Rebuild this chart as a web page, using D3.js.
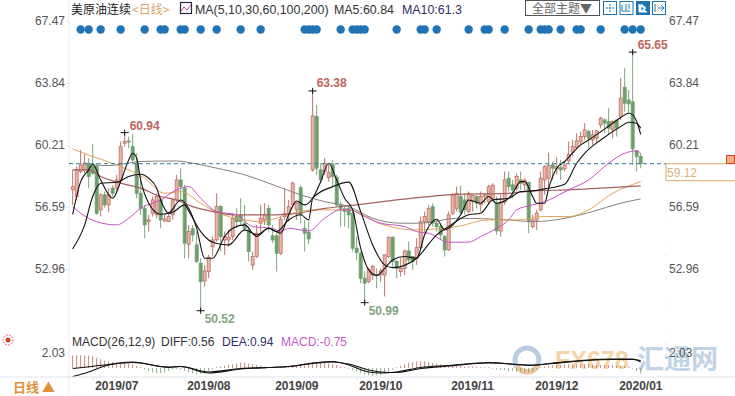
<!DOCTYPE html>
<meta charset="utf-8">
<head>
<script src="https://d3js.org/d3.v7.min.js"></script>
<style>
  html, body { margin: 0; padding: 0; background: #fff; overflow: hidden; }
  text { font-family: "Liberation Sans", Arial, sans-serif; font-size: 12px; }
  .cjk { font-family: "Noto Sans CJK SC", sans-serif; }
  .axis path, .axis line { stroke: #e4e8ee; }
  .axis text { fill: #555; font-size: 12px; }
  .dates text { fill: #444; font-weight: bold; }
  .ma { fill: none; }
</style>
</head>
<body>
<div id="my_dataviz"></div>
<script>

    // daily candles
    var opens = [57.59,57.20,58.66,58.76,59.15,58.95,58.95,56.42,57.30,56.71,57.69,57.69,58.17,60.32,60.45,60.12,59.15,57.39,56.51,55.73,56.22,56.13,57.00,55.77,55.73,56.13,57.00,58.17,57.69,54.41,55.31,54.37,53.30,52.26,52.81,54.27,54.66,56.61,54.66,54.66,54.86,56.03,56.13,55.64,55.25,53.20,53.69,55.64,55.83,56.51,54.90,54.90,53.88,56.03,56.13,56.71,56.42,57.72,55.34,55.11,58.76,61.88,58.76,58.66,58.31,59.09,58.31,56.71,56.48,56.51,56.22,54.18,53.88,52.42,52.22,52.61,52.65,52.61,52.61,53.69,54.82,53.40,52.81,53.00,54.02,53.69,53.59,54.21,55.73,55.73,56.61,55.64,55.44,54.86,54.08,56.22,56.51,57.20,57.00,56.32,56.90,57.20,56.71,57.20,56.90,57.10,56.81,55.19,56.87,58.27,57.88,57.69,58.17,57.88,58.03,55.44,55.83,56.42,58.17,58.27,59.05,58.82,58.89,58.82,59.28,59.79,60.06,60.42,60.71,61.00,60.51,60.61,61.39,61.68,61.59,61.10,61.68,61.88,63.59,62.85,62.74,59.87,59.54];
    var highs = [58.76,58.95,59.93,59.73,59.44,60.26,59.15,57.39,57.49,57.69,57.88,58.47,60.42,60.94,60.71,60.84,59.73,58.17,56.71,56.13,57.20,57.39,57.20,56.22,56.32,57.10,58.47,58.86,57.88,55.54,55.54,55.15,53.59,53.20,53.79,54.86,57.39,56.71,55.15,55.25,56.22,56.51,57.10,56.71,55.44,53.98,55.54,56.71,56.81,56.71,55.54,55.05,56.03,57.69,57.00,58.07,56.90,57.84,55.83,55.73,63.38,62.56,59.15,59.44,59.15,59.34,58.47,56.90,56.61,56.71,56.32,54.86,53.98,52.81,53.00,53.20,53.00,53.00,53.79,54.86,54.86,53.49,53.59,54.08,54.57,53.69,54.76,56.03,56.32,56.71,56.81,55.83,55.54,54.96,56.32,57.39,57.78,57.84,57.39,57.49,57.30,57.30,57.49,57.39,57.88,57.98,57.20,57.30,58.66,58.66,58.17,58.56,58.66,58.27,58.07,56.13,56.42,58.66,59.05,59.77,59.25,59.50,59.34,59.25,60.42,60.51,60.90,61.00,61.49,61.10,61.10,61.10,61.88,61.78,62.37,61.68,61.68,64.12,64.71,63.44,65.65,59.93,59.73];
    var lows = [56.71,57.00,58.56,58.56,57.69,58.47,56.13,56.03,56.55,56.28,57.20,57.49,58.07,60.12,60.03,59.25,57.10,56.13,54.76,55.15,56.03,55.93,55.34,55.73,55.70,55.83,56.90,57.00,53.59,53.59,54.57,53.30,50.52,51.93,52.42,53.69,54.57,53.98,53.78,54.27,54.66,55.34,55.54,55.15,53.40,52.91,53.59,55.15,55.54,55.15,54.47,52.81,53.78,55.83,55.73,56.51,55.83,55.64,53.98,54.41,58.66,58.47,57.98,58.47,58.07,57.78,56.61,55.44,55.44,55.34,53.98,53.49,52.13,50.99,52.13,52.32,51.83,52.22,51.35,53.59,53.10,52.42,52.52,52.61,53.30,52.91,53.20,54.08,55.05,55.54,55.44,55.15,54.66,53.69,54.02,56.13,56.32,56.13,56.13,56.22,56.32,56.51,56.32,56.81,56.71,57.00,54.96,54.86,56.71,57.49,57.10,57.49,57.59,57.49,55.05,55.34,55.25,56.32,57.30,57.69,58.17,58.47,58.17,58.66,59.15,59.54,59.93,60.22,60.51,60.03,60.22,60.32,61.20,60.90,60.81,60.61,60.71,61.68,62.17,62.07,59.05,58.66,58.85];
    var closes = [57.78,58.76,59.05,59.15,58.37,58.56,56.22,57.30,56.71,57.30,57.39,58.17,60.12,60.42,60.42,59.34,57.39,56.51,55.54,55.83,57.00,57.20,55.83,55.89,56.03,57.00,58.17,57.78,54.47,55.15,54.96,53.40,52.22,52.85,53.63,54.66,56.61,54.86,54.86,54.80,55.93,55.73,55.73,55.34,53.98,53.69,55.05,55.93,56.13,55.54,54.66,53.88,55.87,56.22,56.61,57.98,56.81,56.13,55.05,54.72,61.92,58.86,58.17,59.15,58.60,58.37,56.71,56.51,56.32,56.13,54.18,53.92,52.42,52.13,52.91,53.10,52.57,52.85,53.79,54.82,53.40,53.00,53.00,54.02,53.49,53.40,54.21,55.73,56.03,56.51,55.64,55.44,54.96,54.08,56.13,57.30,57.39,56.28,56.42,57.39,57.26,56.81,57.20,57.30,57.78,57.84,55.19,56.87,58.17,57.78,57.59,58.37,57.98,58.17,55.73,55.83,56.22,58.27,58.95,59.01,58.86,58.95,58.76,59.05,59.67,60.12,60.45,60.71,61.10,60.61,60.81,61.04,61.78,61.49,61.20,61.59,61.20,62.95,62.66,62.62,59.99,59.54,59.12];

    // moving averages, sampled by candle index
    var ma5Idx = [0,2,4,5,7,10,12,14,15,16,17,19,22,24,27,29,31,33,35,38,40,43,46,49,52,54,56,58,60,62,64,66,68,70,72,74,76,78,80,83,86,88,91,93,94,97,99,102,104,106,109,110,112,113,115,116,118,119,121,123,127,129,135,137,139,140,141,142];
    var ma5 = [56.16,58.07,58.76,59.09,58.17,57.10,58.07,59.34,59.73,59.44,58.17,56.81,56.16,56.22,57.00,56.51,55.34,53.59,53.59,54.86,55.34,55.54,54.86,55.34,55.05,56.13,56.94,56.71,57.10,58.07,59.15,58.17,57.10,56.42,54.18,52.91,52.58,53.00,53.49,53.69,53.59,54.96,55.87,55.25,55.34,56.13,57.00,56.81,57.20,56.81,57.10,57.39,58.07,58.07,57.20,56.81,56.81,57.69,58.86,59.25,60.22,60.51,61.49,61.82,62.07,61.98,61.59,60.84];
    var ma10Idx = [0,3,5,7,11,14,17,19,21,22,24,25,28,29,32,34,37,39,43,46,49,51,54,57,59,60,65,69,72,75,78,80,86,91,94,99,102,105,109,112,115,118,123,126,128,132,137,139,141,142];
    var ma10 = [54.14,55.54,57.20,57.98,58.04,58.37,58.50,58.27,57.69,57.00,56.22,56.28,56.71,56.36,55.15,54.66,54.41,54.37,55.25,54.96,55.34,55.15,55.83,56.13,55.83,57.10,57.78,58.04,56.32,54.37,53.20,53.04,53.59,54.96,55.44,56.13,56.22,57.00,57.10,57.49,57.53,57.65,57.92,59.15,59.73,60.51,61.29,61.55,61.49,61.20];
    var ma30Idx = [0,2,6,11,14,17,22,26,29,32,36,41,45,50,52,54,59,63,67,69,73,77,83,86,89,94,99,102,106,109,111,115,118,124,129,134,138,141,142];
    var ma30 = [56.61,56.22,55.73,55.54,55.93,56.51,57.00,57.59,57.78,57.10,56.32,56.13,55.44,55.34,55.15,55.34,55.19,55.93,56.42,56.42,56.03,55.64,55.44,55.15,55.05,54.53,54.53,54.86,55.34,55.83,56.42,56.71,56.90,57.59,58.17,59.15,59.73,59.87,59.73];
    var ma60Idx = [0,4,7,12,17,22,26,30,36,40,47,54,63,71,81,89,96,109,115,124,132,142];
    var ma60 = [58.76,58.76,58.37,57.98,57.69,57.20,57.00,56.61,56.28,56.13,56.13,56.16,56.51,56.71,57.00,57.20,57.33,57.39,57.53,57.59,57.69,57.82];
    var ma100Idx = [0,5,11,18,23,27,32,36,43,47,54,60,69,77,85,96,104,109,111,118,124,129,135,142];
    var ma100 = [59.99,59.54,59.05,58.27,57.39,57.49,56.81,56.28,55.83,55.73,56.16,56.42,56.42,55.60,55.25,55.44,55.83,55.83,55.83,56.03,56.03,56.42,57.39,58.07];
    var ma200Idx = [5,9,12,17,26,30,36,43,49,52,57,63,69,75,82,87,96,109,115,124,130,137,142];
    var ma200 = [59.05,59.01,59.09,59.25,59.28,59.15,58.86,58.47,57.98,57.72,57.30,56.90,56.61,55.93,55.64,55.64,55.93,55.83,55.73,55.97,56.32,56.81,57.06];

    // candle indexes carrying a blue dot along the top
    var dotIdx = [2,4,7,12,18,22,23,27,28,32,36,42,47,58,59,60,61,67,70,71,72,73,81,87,88,91,99,103,104,108,114,117,118,119,122,126,127,132,138,140,142];

    // MACD panel
    var macdBars = [1.7,1.75,1.75,1.7,1.7,1.6,1.4,1.2,1.0,.9,.8,.8,.7,.7,.6,.5,.3,.1,-.2,-.4,-.6,-.7,-.7,-.6,-.4,-.2,-.1,-.2,-.4,-.6,-.7,-.8,-.8,-.7,-.5,-.2,.1,.2,.3,.4,.5,.6,.7,.7,.6,.5,.4,.3,.2,.1,.1,.1,.1,.2,.3,.3,.4,.5,.6,.7,.8,.8,.7,.7,.6,.5,.4,.2,.1,-.1,-.3,-.5,-.7,-.9,-1,-1.1,-1,-.9,-.7,-.5,-.2,.1,.3,.5,.7,.8,.9,.9,.9,.8,.7,.6,.5,.4,.4,.3,.3,.3,.2,.2,.2,.2,.1,.1,.1,-.1,-.2,-.3,-.3,-.4,-.4,-.5,-.5,-.6,-.6,-.5,-.2,.1,.2,.3,.4,.4,.4,.5,.5,.5,.5,.5,.5,.5,.5,.4,.4,.4,.4,.4,.3,.3,.3,.2,-.1,-.4,-.75];
    var deaIdx = [0,8,15,24,27,34,42,49,54,61,65,69,74,77,81,87,94,104,115,120,127,135,140,142];
    var dea = [-.07,.41,.74,.14,.20,-.54,-.07,.07,.20,.68,.81,.54,-.27,-.54,-.61,-.07,.27,.68,.41,.61,.95,1.15,1.15,1.01];
    var diffIdx = [0,4,8,15,24,27,34,42,49,54,61,65,69,74,77,81,87,94,104,115,120,127,135,140,142];
    var diff = [-1.15,-.54,.27,.81,.07,.20,-.68,-.14,.07,.20,.74,.88,.41,-.54,-.68,-.54,.07,.34,.74,.34,.68,1.01,1.22,1.22,.81];

    var priceTicks = [67.47,63.84,60.21,56.59,52.96];
    var dateIdx = [5,28,50,71,94,115,136];
    var dateLabels = ["2019/07","2019/08","2019/09","2019/10","2019/11","2019/12","2020/01"];
    var lastPrice = 59.12;
    // index, price, text colour, label offset
    var extremes = [
      {i: 13, v: 60.94, c: "#c0645c", dx: 5, dy: -3},
      {i: 60, v: 63.38, c: "#c0645c", dx: 4, dy: -4},
      {i: 32, v: 50.52, c: "#7fa67f", dx: 4, dy: 12},
      {i: 73, v: 50.99, c: "#7fa67f", dx: 4, dy: 12},
      {i: 140, v: 65.65, c: "#c0645c", dx: 5, dy: -3}
    ];

    var width = 735, height = 396;

    var svg = d3.select("#my_dataviz")
      .append("svg")
        .attr("width", width)
        .attr("height", height)
        .style("display", "block");

    var x = d3.scaleLinear().domain([0, 142]).range([72.67, 640.67]);
    var y = d3.scaleLinear().domain([67.47, 52.96]).range([21, 269]);
    var yMacd = d3.scaleLinear().domain([2.03, 0]).range([353, 368]);

    // price axes on both sides
    var leftAxis = d3.axisLeft(y).tickValues(priceTicks).tickFormat(d3.format(".2f")).tickSize(3).tickPadding(1);
    svg.append("g").attr("class", "axis").attr("transform", "translate(69,0)").call(leftAxis);
    var rightAxis = d3.axisRight(y).tickValues(priceTicks).tickFormat(d3.format(".2f")).tickSize(0).tickPadding(3);
    svg.append("g").attr("class", "axis").attr("transform", "translate(666,0)").call(rightAxis);
    svg.selectAll(".axis .domain").remove();

    svg.append("line").attr("x1", 69).attr("x2", 69).attr("y1", 0).attr("y2", 396).attr("stroke", "#e6eaf0");
    svg.append("line").attr("x1", 666).attr("x2", 666).attr("y1", 0).attr("y2", 376)
      .attr("stroke", "#eceff3").attr("stroke-dasharray", "3,8");

    // watermark sits under the MACD lines
    var mark = svg.append("g");
    mark.append("circle").attr("cx", 527).attr("cy", 360).attr("r", 12).attr("fill", "none")
      .attr("stroke", "#b9cde3").attr("stroke-width", 5);
    mark.append("path").attr("d", "M517,366 A12,12 0 0,0 538,365").attr("fill", "none")
      .attr("stroke", "#f2c79a").attr("stroke-width", 5);
    mark.append("text").attr("x", 555).attr("y", 369).attr("fill", "#f6d3a8")
      .style("font-size", "25px").style("font-weight", "bold").text("FX678");
    mark.append("text").attr("class", "cjk").attr("x", 637).attr("y", 369).attr("fill", "#c2d3e6")
      .style("font-size", "27px").style("font-weight", "bold").text("汇通网");

    var idx = d3.range(opens.length);
    var red = function(i) { return closes[i] >= opens[i]; };

    // wicks
    svg.append("g").selectAll("line").data(idx).enter().append("line")
      .attr("x1", function(i) { return x(i); })
      .attr("x2", function(i) { return x(i); })
      .attr("y1", function(i) { return y(highs[i]); })
      .attr("y2", function(i) { return y(lows[i]); })
      .attr("stroke", function(i) { return red(i) ? "#b4766c" : "#7da57d"; });

    // bodies
    svg.append("g").selectAll("rect").data(idx).enter().append("rect")
      .attr("x", function(i) { return x(i) - 1.5; })
      .attr("width", 3)
      .attr("y", function(i) { return y(Math.max(opens[i], closes[i])); })
      .attr("height", function(i) { return Math.max(1, Math.abs(y(opens[i]) - y(closes[i]))); })
      .attr("fill", function(i) { return red(i) ? "#eab4a8" : "#6c9f6c"; })
      .attr("stroke", function(i) { return red(i) ? "#bd6f62" : "#6c9f6c"; })
      .attr("stroke-width", 0.8);

    // moving averages
    function drawLine(xs, ys, color, w, yScale) {
      var pts = xs.map(function(d, k) { return [d, ys[k]]; });
      svg.append("path")
        .datum(pts)
        .attr("class", "ma")
        .attr("stroke", color)
        .attr("stroke-width", w)
        .attr("d", d3.line()
          .x(function(d) { return x(d[0]); })
          .y(function(d) { return yScale(d[1]); })
          .curve(d3.curveMonotoneX));
    }
    drawLine(ma200Idx, ma200, "#87807c", 1, y);
    drawLine(ma100Idx, ma100, "#e0a55a", 1, y);
    drawLine(ma60Idx, ma60, "#a5615f", 1.2, y);
    drawLine(ma30Idx, ma30, "#c94fc0", 1, y);
    drawLine(ma10Idx, ma10, "#111", 1.1, y);
    drawLine(ma5Idx, ma5, "#111", 1.1, y);

    // blue dots along the top
    svg.append("g").selectAll("circle").data(dotIdx).enter().append("circle")
      .attr("cx", function(i) { return x(i); })
      .attr("cy", 29.5)
      .attr("r", 4.2)
      .attr("fill", "#1f74b4");

    // last price line and box
    svg.append("line").attr("x1", 69).attr("x2", 666)
      .attr("y1", y(lastPrice)).attr("y2", y(lastPrice))
      .attr("stroke", "#2f7f92").attr("stroke-dasharray", "4,3");
    svg.append("path").attr("d", "M735," + y(lastPrice) + " H666 V" + (y(lastPrice) + 17) + " H735")
      .attr("fill", "none").attr("stroke", "#dda964");
    svg.append("text").attr("x", 667).attr("y", y(lastPrice) + 13)
      .attr("fill", "#d9b47c").text(d3.format(".2f")(lastPrice));
    svg.append("rect").attr("x", 726.5).attr("y", 155.5).attr("width", 8).attr("height", 8)
      .attr("fill", "#f3b27c").attr("stroke", "#d8402c");

    // high / low markers
    var ext = svg.append("g").selectAll("g").data(extremes).enter().append("g");
    ext.append("path")
      .attr("d", function(d) {
        return "M" + (x(d.i) - 4) + "," + y(d.v) + "h8M" + x(d.i) + "," + (y(d.v) - 3) + "v6";
      })
      .attr("stroke", "#111");
    ext.append("text")
      .attr("x", function(d) { return x(d.i) + d.dx; })
      .attr("y", function(d) { return y(d.v) + d.dy; })
      .attr("fill", function(d) { return d.c; })
      .style("font-weight", "bold")
      .text(function(d) { return d3.format(".2f")(d.v); });

    // header
    var head = svg.append("g");
    head.append("text").attr("class", "cjk").attr("x", 71).attr("y", 14).attr("fill", "#222").text("美原油连续");
    head.append("text").attr("class", "cjk").attr("x", 132).attr("y", 14).attr("fill", "#dba36a").text("<日线>");
    head.append("rect").attr("x", 180.5).attr("y", 2.5).attr("width", 11).attr("height", 11)
      .attr("fill", "#fff").attr("stroke", "#2a2650").attr("stroke-width", 1.2);
    head.append("path").attr("d", "M181,11 l3,-4 l3,3 l4,-5").attr("fill", "none").attr("stroke", "#b0478a");
    head.append("text").attr("x", 195).attr("y", 14).attr("fill", "#333").style("font-size", "12.4px").text("MA(5,10,30,60,100,200)");
    head.append("text").attr("x", 334).attr("y", 14).attr("fill", "#333").style("font-size", "12.4px").text("MA5:60.84");
    head.append("text").attr("x", 402).attr("y", 14).attr("fill", "#2e2e6a").style("font-size", "12.4px").text("MA10:61.3");

    // theme button and tool icons
    head.append("rect").attr("x", 525.5).attr("y", 0.5).attr("width", 74).attr("height", 15)
      .attr("fill", "#fff").attr("stroke", "#555");
    head.append("text").attr("class", "cjk").attr("x", 532).attr("y", 13).attr("fill", "#666").text("全部主题▼");
    var tools = [603, 619.5, 636, 652];
    tools.forEach(function(t, k) {
      head.append("rect").attr("x", t + 0.5).attr("y", 1.5).attr("width", 13).attr("height", 13)
        .attr("fill", k == 2 ? "#1f74b4" : "#fff").attr("stroke", "#1f74b4");
    });
    head.append("path").attr("d", "M610,4v8M606,8h8").attr("stroke", "#1f74b4").attr("stroke-dasharray", "2,1");
    head.append("path").attr("d", "M622,5v6h8M626,4v6M629,4v5").attr("fill", "none").attr("stroke", "#1f74b4");
    head.append("path").attr("d", "M639,4v8h8M641,4l5,4l-5,3z").attr("fill", "#fff").attr("stroke", "#fff");
    head.append("path").attr("d", "M655,4v8M658,8h6M661,5l3,3l-3,3").attr("fill", "none").attr("stroke", "#1f74b4");

    // MACD panel
    svg.append("g").selectAll("line").data(idx).enter().append("line")
      .attr("x1", function(i) { return x(i); })
      .attr("x2", function(i) { return x(i); })
      .attr("y1", yMacd(0))
      .attr("y2", function(i) { return yMacd(macdBars[i]); })
      .attr("stroke", function(i) { return macdBars[i] >= 0 ? "#b5695c" : "#6f9a6f"; })
      .attr("stroke-width", 0.8);
    drawLine(deaIdx, dea, "#111", 1.1, yMacd);
    drawLine(diffIdx, diff, "#111", 1.1, yMacd);

    var macdHead = svg.append("g");
    macdHead.append("text").attr("x", 72).attr("y", 346).attr("fill", "#333").text("MACD(26,12,9)");
    macdHead.append("text").attr("x", 161).attr("y", 346).attr("fill", "#333").text("DIFF:0.56");
    macdHead.append("text").attr("x", 222).attr("y", 346).attr("fill", "#2e2e6a").text("DEA:0.94");
    macdHead.append("text").attr("x", 281).attr("y", 346).attr("fill", "#c75cc6").text("MACD:-0.75");
    macdHead.append("text").attr("x", 65).attr("y", 357).attr("text-anchor", "end").attr("fill", "#555").text("2.03");
    macdHead.append("text").attr("x", 669).attr("y", 357).attr("fill", "#555").text("2.03");
    macdHead.append("circle").attr("cx", 8).attr("cy", 340).attr("r", 2.5).attr("fill", "#d8402c");
    macdHead.append("circle").attr("cx", 8).attr("cy", 340).attr("r", 5).attr("fill", "none")
      .attr("stroke", "#d8402c").attr("stroke-dasharray", "1.5,1.5");

    // date axis
    var xAxis = d3.axisBottom(x).tickValues(dateIdx)
      .tickFormat(function(d, k) { return dateLabels[k]; })
      .tickSize(4).tickPadding(0);
    var dates = svg.append("g").attr("class", "axis dates").attr("transform", "translate(0,377)").call(xAxis);
    dates.select(".domain").remove();
    dates.selectAll("text").attr("text-anchor", "start").attr("dx", 2).attr("y", 4);

    svg.append("line").attr("x1", 0).attr("x2", 735).attr("y1", 377).attr("y2", 377).attr("stroke", "#e0e3e8");
    svg.append("text").attr("class", "cjk").attr("x", 13).attr("y", 392).attr("fill", "#e0913a")
      .style("font-size", "13px").style("font-weight", "bold").text("日线 ▲");

</script>
</body>
